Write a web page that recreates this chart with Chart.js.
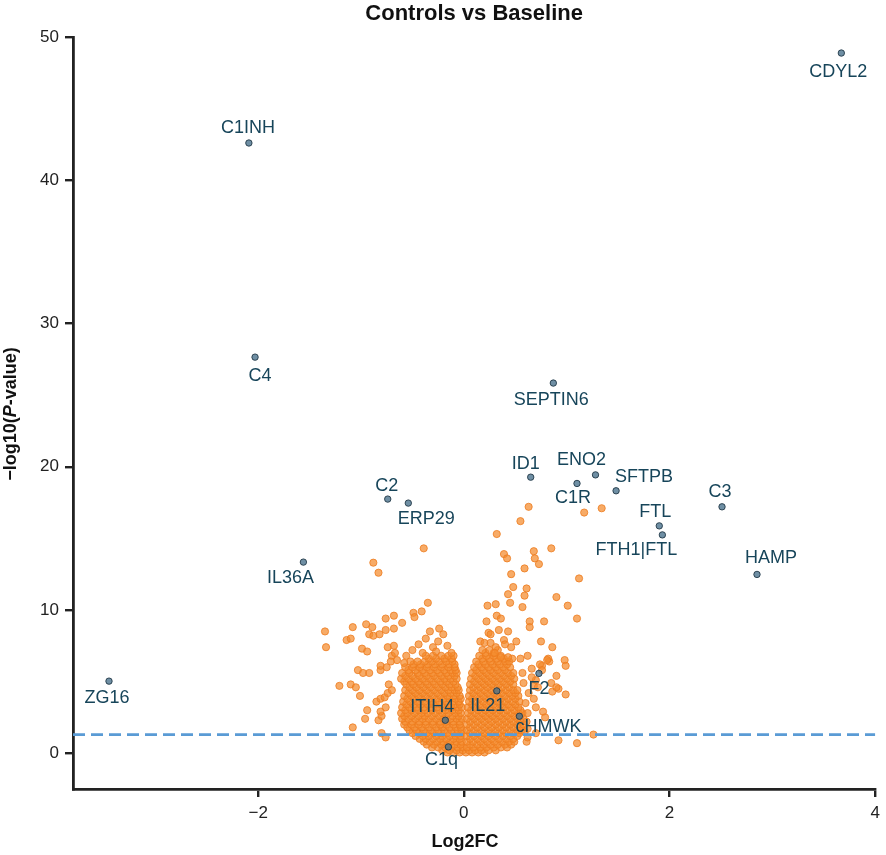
<!DOCTYPE html>
<html>
<head>
<meta charset="utf-8">
<title>Controls vs Baseline</title>
<script src="https://cdn.jsdelivr.net/npm/chart.js@4.4.1/dist/chart.umd.min.js"></script>
<style>
  html, body { margin: 0; padding: 0; background: #fff; }
  #wrap { width: 886px; height: 855px; }
</style>
</head>
<body>
<div id="wrap"><canvas id="volcano"></canvas></div>
<script>
// ---- data ----
const xTicks = [-2, 0, 2, 4];
const yTicks = [0, 10, 20, 30, 40, 50];
const pThreshold = 1.3; // -log10(0.05)

const labeledGenes   = ["CDYL2", "C1INH", "C4", "SEPTIN6", "ID1", "ENO2", "C1R", "SFTPB", "C2", "ERP29", "C3", "FTL", "FTH1|FTL", "IL36A", "HAMP", "ZG16", "F2", "IL21", "ITIH4", "cHMWK", "C1q"];
const labeledLog2FC  = [3.67, -2.09, -2.03, 0.87, 0.65, 1.28, 1.10, 1.48, -0.74, -0.54, 2.51, 1.90, 1.93, -1.56, 2.85, -3.45, 0.73, 0.32, -0.18, 0.54, -0.15];
const labeledNegLogP = [48.88, 42.60, 27.65, 25.84, 19.27, 19.43, 18.83, 18.32, 17.74, 17.46, 17.20, 15.87, 15.24, 13.34, 12.48, 5.03, 5.57, 4.35, 2.30, 2.58, 0.44];

// dense core of the volcano, row by row: [ -log10(p), [log2FC ...] ]
const coreLeftRows = [
  [0.05, [-0.16, -0.10, -0.04]],
  [0.2, [-0.21, -0.14, -0.07, -0.01]],
  [0.4, [-0.31, -0.25, -0.18, -0.12, -0.06, -0.01]],
  [0.6, [-0.36, -0.29, -0.22, -0.16, -0.09, -0.03]],
  [0.8, [-0.39, -0.33, -0.26, -0.20, -0.13, -0.07, -0.02]],
  [1.0, [-0.43, -0.37, -0.30, -0.23, -0.17, -0.10, -0.04]],
  [1.2, [-0.47, -0.40, -0.34, -0.27, -0.21, -0.14, -0.08, -0.03]],
  [1.4, [-0.50, -0.43, -0.36, -0.29, -0.22, -0.16, -0.09, -0.03]],
  [1.6, [-0.53, -0.46, -0.39, -0.32, -0.25, -0.19, -0.12, -0.06, -0.02]],
  [1.8, [-0.55, -0.48, -0.41, -0.34, -0.27, -0.21, -0.14, -0.08, -0.03]],
  [2.0, [-0.58, -0.51, -0.44, -0.37, -0.30, -0.23, -0.17, -0.10, -0.04]],
  [2.2, [-0.57, -0.50, -0.43, -0.37, -0.30, -0.23, -0.17, -0.10, -0.04]],
  [2.4, [-0.60, -0.54, -0.47, -0.40, -0.34, -0.27, -0.20, -0.13, -0.07, -0.02]],
  [2.6, [-0.58, -0.51, -0.44, -0.38, -0.31, -0.24, -0.17, -0.11, -0.05]],
  [2.8, [-0.61, -0.55, -0.48, -0.41, -0.35, -0.28, -0.21, -0.15, -0.08, -0.03]],
  [3.0, [-0.57, -0.51, -0.44, -0.38, -0.31, -0.24, -0.18, -0.11, -0.05]],
  [3.2, [-0.60, -0.53, -0.46, -0.39, -0.32, -0.26, -0.19, -0.12, -0.06, -0.02]],
  [3.4, [-0.56, -0.49, -0.42, -0.35, -0.29, -0.22, -0.15, -0.09, -0.04]],
  [3.6, [-0.59, -0.52, -0.45, -0.38, -0.31, -0.24, -0.17, -0.11, -0.05]],
  [3.8, [-0.55, -0.48, -0.41, -0.34, -0.27, -0.20, -0.14, -0.08, -0.03]],
  [4.0, [-0.58, -0.51, -0.44, -0.37, -0.30, -0.23, -0.16, -0.10, -0.04]],
  [4.2, [-0.54, -0.47, -0.40, -0.33, -0.26, -0.19, -0.13, -0.07]],
  [4.4, [-0.57, -0.50, -0.43, -0.36, -0.29, -0.22, -0.15, -0.09, -0.05]],
  [4.6, [-0.53, -0.46, -0.39, -0.32, -0.25, -0.18, -0.12, -0.06]],
  [4.8, [-0.56, -0.49, -0.42, -0.35, -0.28, -0.21, -0.14, -0.08]],
  [5.0, [-0.58, -0.51, -0.44, -0.37, -0.30, -0.23, -0.17, -0.10]],
  [5.2, [-0.61, -0.54, -0.47, -0.40, -0.33, -0.26, -0.19, -0.13, -0.07]],
  [5.4, [-0.57, -0.50, -0.43, -0.36, -0.29, -0.22, -0.15, -0.09]],
  [5.6, [-0.60, -0.53, -0.45, -0.38, -0.31, -0.24, -0.17, -0.11, -0.07]],
  [5.8, [-0.54, -0.47, -0.40, -0.33, -0.26, -0.19, -0.13, -0.08]],
  [6.0, [-0.57, -0.50, -0.43, -0.36, -0.29, -0.22, -0.15, -0.09]],
  [6.2, [-0.49, -0.42, -0.35, -0.28, -0.21, -0.14, -0.09]],
  [6.4, [-0.52, -0.45, -0.38, -0.31, -0.24, -0.17, -0.11]],
  [6.6, [-0.34, -0.27, -0.19, -0.12]],
  [6.8, [-0.37, -0.30, -0.22, -0.15, -0.10]]
];
const coreRightRows = [
  [0.05, [0.02, 0.08, 0.14, 0.20]],
  [0.2, [0.05, 0.11, 0.17, 0.24, 0.31]],
  [0.4, [0.03, 0.09, 0.16, 0.22, 0.29, 0.36, 0.42]],
  [0.6, [0.06, 0.13, 0.19, 0.26, 0.33, 0.40, 0.46]],
  [0.8, [0.03, 0.09, 0.16, 0.23, 0.30, 0.37, 0.44, 0.49]],
  [1.0, [0.06, 0.13, 0.20, 0.27, 0.34, 0.41, 0.48]],
  [1.2, [0.03, 0.10, 0.17, 0.24, 0.31, 0.38, 0.45, 0.52]],
  [1.4, [0.06, 0.13, 0.20, 0.27, 0.34, 0.41, 0.48, 0.54]],
  [1.6, [0.03, 0.10, 0.17, 0.24, 0.31, 0.38, 0.45, 0.52, 0.56]],
  [1.8, [0.06, 0.13, 0.20, 0.27, 0.34, 0.41, 0.48, 0.55]],
  [2.0, [0.03, 0.10, 0.17, 0.24, 0.31, 0.38, 0.45, 0.52, 0.58]],
  [2.2, [0.06, 0.13, 0.20, 0.27, 0.34, 0.41, 0.48, 0.55]],
  [2.4, [0.03, 0.10, 0.17, 0.24, 0.31, 0.38, 0.45, 0.52, 0.58]],
  [2.6, [0.07, 0.14, 0.21, 0.28, 0.35, 0.42, 0.49, 0.55]],
  [2.8, [0.04, 0.11, 0.18, 0.25, 0.32, 0.39, 0.46, 0.53, 0.57]],
  [3.0, [0.07, 0.14, 0.21, 0.28, 0.35, 0.42, 0.49, 0.55]],
  [3.2, [0.04, 0.11, 0.18, 0.25, 0.32, 0.39, 0.46, 0.53]],
  [3.4, [0.08, 0.15, 0.22, 0.29, 0.36, 0.43, 0.50]],
  [3.6, [0.05, 0.12, 0.19, 0.26, 0.33, 0.40, 0.47, 0.54]],
  [3.8, [0.08, 0.15, 0.22, 0.29, 0.36, 0.43, 0.50]],
  [4.0, [0.05, 0.12, 0.19, 0.26, 0.33, 0.40, 0.47, 0.53]],
  [4.2, [0.09, 0.16, 0.23, 0.30, 0.37, 0.44, 0.50]],
  [4.4, [0.06, 0.13, 0.20, 0.27, 0.34, 0.41, 0.48, 0.52]],
  [4.6, [0.09, 0.16, 0.23, 0.30, 0.37, 0.44]],
  [4.8, [0.06, 0.13, 0.20, 0.27, 0.34, 0.41, 0.48]],
  [5.0, [0.10, 0.17, 0.24, 0.31, 0.38, 0.45]],
  [5.2, [0.07, 0.14, 0.21, 0.28, 0.35, 0.42, 0.49]],
  [5.4, [0.11, 0.18, 0.25, 0.32, 0.39, 0.46]],
  [5.6, [0.08, 0.15, 0.22, 0.29, 0.36, 0.43, 0.48]],
  [5.8, [0.12, 0.19, 0.26, 0.33, 0.40]],
  [6.0, [0.10, 0.17, 0.24, 0.31, 0.38, 0.45]],
  [6.2, [0.14, 0.21, 0.28, 0.35, 0.42]],
  [6.4, [0.12, 0.19, 0.26, 0.33, 0.40, 0.44]],
  [6.6, [0.18, 0.25, 0.32, 0.39]],
  [6.8, [0.15, 0.22, 0.29, 0.36]],
  [7.0, [0.21, 0.29]],
  [7.2, [0.18, 0.25, 0.33]]
];

// scattered genes outside the core
const scatterLeft = [
  [-0.39, 14.3], [-0.88, 13.3], [-0.83, 12.6],
  [-0.35, 10.5], [-0.41, 9.9], [-0.49, 9.8], [-0.48, 9.5], [-0.24, 8.7], [-0.60, 9.1], [-0.68, 9.6], [-0.76, 9.4],
  [-0.95, 9.0], [-0.89, 8.8], [-1.08, 8.8], [-1.35, 8.5], [-1.34, 7.4], [-1.14, 7.9], [-1.10, 8.0],
  [-0.92, 8.3], [-0.88, 8.2], [-0.82, 8.3], [-0.76, 8.6], [-0.68, 8.7],
  [-0.99, 7.3], [-0.94, 7.1], [-0.74, 7.4], [-0.68, 7.5],
  [-1.21, 4.7], [-1.10, 4.8], [-1.05, 4.6], [-1.01, 4.0], [-1.03, 5.8], [-0.98, 5.6], [-0.92, 5.6], [-0.81, 5.8],
  [-0.94, 3.0], [-0.96, 2.4], [-1.08, 1.8],
  [-0.85, 3.6], [-0.81, 3.8], [-0.77, 3.9], [-0.76, 3.2], [-0.83, 2.3], [-0.80, 2.6], [-0.81, 2.9],
  [-0.80, 1.4], [-0.76, 1.1],
  [-0.73, 4.8], [-0.74, 4.2], [-0.70, 4.4],
  [-0.81, 6.1], [-0.75, 6.0], [-0.70, 6.8], [-0.67, 7.0], [-0.65, 6.5], [-0.71, 6.4],
  [-0.44, 7.6], [-0.37, 8.0], [-0.30, 7.4], [-0.25, 7.8], [-0.20, 8.3], [-0.16, 7.5], [-0.12, 7.0],
  [-0.50, 7.2], [-0.56, 6.8], [-0.58, 6.3], [-0.33, 8.5], [-0.27, 7.1], [-0.40, 7.0]
];
const scatterRight = [
  [0.63, 17.2], [0.55, 16.2], [0.32, 15.3], [1.17, 16.8], [1.34, 17.1],
  [0.39, 13.9], [0.42, 13.6], [0.68, 14.1], [0.85, 14.3], [0.69, 13.6], [0.73, 13.2], [0.59, 12.9], [0.46, 12.5], [1.12, 12.2],
  [0.48, 11.6], [0.61, 11.5], [0.43, 11.1], [0.59, 11.0], [0.90, 10.9], [1.01, 10.3],
  [0.23, 10.3], [0.31, 10.4], [0.45, 10.5], [0.57, 10.2],
  [0.32, 9.6], [0.36, 9.4], [0.22, 9.2], [0.64, 9.2], [0.64, 8.8], [0.78, 9.2], [1.10, 9.4],
  [0.34, 8.6], [0.43, 8.5], [0.24, 8.4], [0.26, 8.3],
  [0.75, 7.8], [0.51, 7.8], [0.39, 7.9], [0.40, 7.6], [0.46, 7.4], [0.86, 7.4],
  [0.16, 7.8], [0.20, 7.7], [0.26, 7.7], [0.31, 7.4],
  [0.62, 6.8], [0.55, 6.6], [0.47, 6.6], [0.43, 6.7], [0.36, 6.7], [0.30, 7.0],
  [0.83, 6.4], [0.76, 6.1], [0.98, 6.5], [0.99, 6.1], [0.82, 6.6], [0.66, 5.9],
  [0.74, 6.2], [0.76, 5.8], [0.81, 6.5],
  [0.90, 5.4], [0.85, 4.9], [0.92, 4.5], [0.86, 4.3], [0.99, 4.1], [0.90, 4.6],
  [0.70, 5.1], [0.68, 4.7], [0.72, 4.6], [0.66, 5.3], [0.68, 3.8],
  [0.70, 3.2], [0.77, 2.9], [0.79, 2.5], [0.61, 2.2], [0.62, 1.7], [0.59, 1.5], [0.61, 0.8], [0.62, 1.1], [0.70, 1.4],
  [0.92, 0.9], [1.10, 0.7], [1.26, 1.3],
  [0.60, 3.5], [0.63, 4.2], [0.58, 4.9], [0.62, 2.8], [0.57, 5.6]
];

// ---- layout (pixels) ----
const xMin = -3.8, xMax = 4, yMin = -2.5, yMax = 50;
const labelOffsets = {
  "CDYL2": [-3, 19], "C1INH": [-1, -15], "C4": [5, 19], "SEPTIN6": [-2, 17], "ID1": [-5, -13],
  "ENO2": [-14, -15], "C1R": [-4, 15], "SFTPB": [28, -14], "C2": [-1, -13], "ERP29": [18, 16],
  "C3": [-2, -15], "FTL": [-4, -14], "FTH1|FTL": [-26, 15], "IL36A": [-13, 16], "HAMP": [14, -16],
  "ZG16": [-2, 17], "F2": [0, 16], "IL21": [-9, 15], "ITIH4": [-13, -13], "cHMWK": [29, 11], "C1q": [-7, 13]
};
const FONT = "'Liberation Sans', Arial, Helvetica, sans-serif";

function rowsToPoints(rows) {
  const pts = [];
  rows.forEach(([y, xs]) => xs.forEach(x => pts.push({ x: x, y: y })));
  return pts;
}
const pairsToPoints = arr => arr.map(([x, y]) => ({ x: x, y: y }));

const otherGenes = [].concat(
  rowsToPoints(coreLeftRows), rowsToPoints(coreRightRows),
  pairsToPoints(scatterLeft), pairsToPoints(scatterRight)
);
const topGenes = labeledGenes.map((g, i) => ({ x: labeledLog2FC[i], y: labeledNegLogP[i] }));

const fmtTick = v => (v < 0 ? "\u2212" + Math.abs(v) : String(v));

// titles and gene labels drawn by hand (mixed italic in y title)
const textPlugin = {
  id: "volcanoText",
  afterDatasetsDraw(chart) {
    const ctx = chart.ctx;
    const area = chart.chartArea;
    ctx.save();
    ctx.textAlign = "center";
    ctx.textBaseline = "middle";

    // gene labels
    ctx.fillStyle = "#17455a";
    ctx.font = "18px " + FONT;
    const meta = chart.getDatasetMeta(1);
    meta.data.forEach((pt, i) => {
      const name = labeledGenes[i];
      const off = labelOffsets[name] || [0, -14];
      ctx.fillText(name, pt.x + off[0], pt.y + off[1]);
    });

    // title
    ctx.fillStyle = "#111";
    ctx.font = "bold 22px " + FONT;
    ctx.fillText("Controls vs Baseline", (area.left + area.right) / 2, 14);

    // x title
    ctx.font = "bold 18px " + FONT;
    ctx.fillText("Log2FC", 465, 842);

    // y title: −log10(P-value) with italic P
    const parts = [
      ["\u2212log10(", "bold 18px " + FONT],
      ["P", "italic bold 18px " + FONT],
      ["-value)", "bold 18px " + FONT]
    ];
    let total = 0;
    parts.forEach(p => { ctx.font = p[1]; total += ctx.measureText(p[0]).width; });
    ctx.translate(11, 414);
    ctx.rotate(-Math.PI / 2);
    ctx.textAlign = "left";
    let cx = -total / 2;
    parts.forEach(p => {
      ctx.font = p[1];
      ctx.fillText(p[0], cx, 0);
      cx += ctx.measureText(p[0]).width;
    });
    ctx.restore();
  }
};

const ctx = document.getElementById("volcano").getContext("2d");
new Chart(ctx, {
  type: "scatter",
  data: {
    datasets: [
      {
        label: "genes",
        data: otherGenes,
        backgroundColor: "rgba(244,138,44,0.72)",
        borderColor: "rgba(238,124,30,0.8)",
        borderWidth: 1,
        pointRadius: 3.6,
        order: 3
      },
      {
        label: "top genes",
        data: topGenes,
        backgroundColor: "rgba(70,112,138,0.78)",
        borderColor: "rgba(35,58,72,0.9)",
        borderWidth: 1,
        pointRadius: 3.2,
        order: 2
      },
      {
        type: "line",
        label: "threshold",
        data: [{ x: xMin, y: pThreshold }, { x: xMax, y: pThreshold }],
        borderColor: "#5a9bd5",
        borderWidth: 2.7,
        borderDash: [12, 6],
        pointRadius: 0,
        fill: false,
        order: 1
      }
    ]
  },
  options: {
    responsive: true,
    maintainAspectRatio: false,
    devicePixelRatio: 1,
    animation: false,
    layout: { padding: { top: 37, right: 6, left: 0, bottom: 0 } },
    plugins: {
      legend: { display: false },
      title: { display: false },
      tooltip: { enabled: false }
    },
    scales: {
      x: {
        type: "linear",
        min: xMin,
        max: xMax,
        afterBuildTicks: axis => { axis.ticks = xTicks.map(v => ({ value: v })); },
        afterFit: scale => { scale.height = 66; },
        grid: { drawOnChartArea: false, drawTicks: true, tickLength: 8, color: "#222", lineWidth: 2.4 },
        border: { display: true, color: "#222", width: 2.8 },
        ticks: { color: "#222", font: { family: FONT, size: 17 }, padding: 6, callback: fmtTick, maxRotation: 0 }
      },
      y: {
        type: "linear",
        min: yMin,
        max: yMax,
        afterBuildTicks: axis => { axis.ticks = yTicks.map(v => ({ value: v })); },
        afterFit: scale => { scale.width = 73; },
        grid: { drawOnChartArea: false, drawTicks: true, tickLength: 8, color: "#222", lineWidth: 2.4 },
        border: { display: true, color: "#222", width: 2.8 },
        ticks: { color: "#222", font: { family: FONT, size: 17 }, padding: 6, callback: fmtTick }
      }
    }
  },
  plugins: [textPlugin]
});
</script>
</body>
</html>
